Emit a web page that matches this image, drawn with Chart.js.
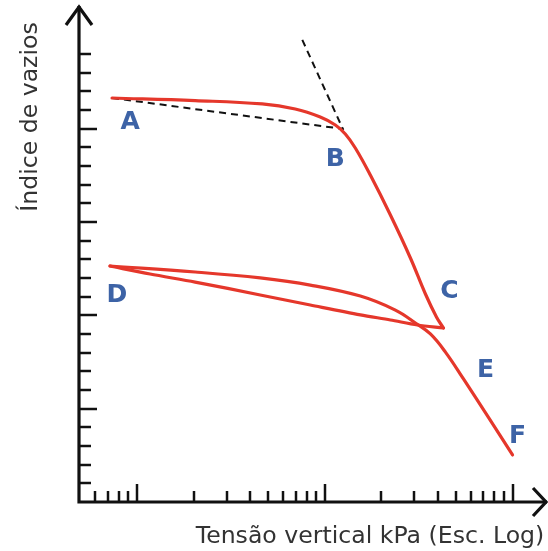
<!DOCTYPE html>
<html>
<head>
<meta charset="utf-8">
<script src="https://cdn.jsdelivr.net/npm/chart.js@4/dist/chart.umd.min.js"></script>
<style>
html,body{margin:0;padding:0;background:#fff;}
#wrap{width:548px;height:551px;}
</style>
</head>
<body>
<div id="wrap"><canvas id="c" width="548" height="551"></canvas></div>
<script>
// ---- data (stress in kPa, log scale; void ratio in arbitrary units) ----
const loadX = [7.36, 20.39, 46.42, 69.6, 94.6, 113.8, 128.6, 145.4, 174.8, 223.6, 285.8, 343.6, 393.3, 428.5];
const loadY = [21.64, 21.50, 21.32, 21.05, 20.62, 20.19, 19.71, 18.96, 17.51, 15.37, 13.07, 11.14, 9.91, 9.32];
const unloadX = [428.5, 311.5, 223.6, 154.7, 83.7, 45.3, 20.39, 11.73, 7.18];
const unloadY = [9.32, 9.48, 9.75, 10.02, 10.55, 11.09, 11.78, 12.21, 12.64];
const reloadX = [7.18, 20.39, 45.3, 83.7, 154.7, 237.7, 303.9, 365.2, 439.2, 547.9, 735.6, 1000];
const reloadY = [12.64, 12.32, 12.0, 11.62, 11.03, 10.28, 9.59, 9.0, 8.03, 6.59, 4.61, 2.52];
const tangentX = [7.36, 125.5];
const tangentY = [21.64, 19.98];
const slopeLineX = [75.9, 125.5];
const slopeLineY = [24.75, 19.93];
const letters = ['A', 'B', 'C', 'D', 'E', 'F'];
const letterX = [9.18, 113.8, 461.3, 7.82, 717.8, 1063];
const letterY = [20.46, 18.48, 11.41, 11.19, 7.18, 3.64];
const yTicks = [1,2,3,4,5,6,7,8,9,10,11,12,13,14,15,16,17,18,19,20,21,22,23,24];
const yMajorTicks = [5, 10, 15, 20];
const xTicks = [6,7,8,9,10,20,30,40,50,60,70,80,90,100,200,300,400,500,600,700,800,900,1000];
const xMajorTicks = [10, 100, 1000];
const xTitle = 'Tensão vertical kPa (Esc. Log)';
const yTitle = 'Índice de vazios';

const RED = '#e5372b';
const BLUE = '#3d63a6';
const toPts = (xs, ys) => xs.map((x, i) => ({x: x, y: ys[i]}));

const axesPlugin = {
  id: 'axesPlugin',
  beforeDatasetsDraw(chart) {
    const ctx = chart.ctx;
    const xs = chart.scales.x, ys = chart.scales.y;
    const x0 = xs.left, y0 = ys.bottom;
    ctx.save();
    ctx.strokeStyle = '#111';
    ctx.lineCap = 'butt';
    ctx.lineWidth = 2.5;
    yTicks.forEach(v => {
      const py = Math.round(ys.getPixelForValue(v));
      const len = yMajorTicks.includes(v) ? 18 : 12;
      ctx.beginPath(); ctx.moveTo(x0, py); ctx.lineTo(x0 + len, py); ctx.stroke();
    });
    xTicks.forEach(v => {
      const px = Math.round(xs.getPixelForValue(v));
      const len = xMajorTicks.includes(v) ? 18 : 11;
      ctx.beginPath(); ctx.moveTo(px, y0); ctx.lineTo(px, y0 - len); ctx.stroke();
    });
    ctx.lineWidth = 3.2;
    ctx.beginPath();
    ctx.moveTo(x0, ys.top + 1);
    ctx.lineTo(x0, y0);
    ctx.lineTo(xs.right - 1, y0);
    ctx.stroke();
    ctx.lineJoin = 'miter';
    ctx.beginPath();
    ctx.moveTo(x0 - 13, ys.top + 20);
    ctx.lineTo(x0, ys.top + 2);
    ctx.lineTo(x0 + 13, ys.top + 20);
    ctx.stroke();
    ctx.beginPath();
    ctx.moveTo(xs.right - 15, y0 - 14);
    ctx.lineTo(xs.right - 2, y0);
    ctx.lineTo(xs.right - 15, y0 + 14);
    ctx.stroke();
    ctx.restore();
  },
  afterDatasetsDraw(chart) {
    const ctx = chart.ctx;
    const xs = chart.scales.x, ys = chart.scales.y;
    ctx.save();
    ctx.fillStyle = BLUE;
    ctx.font = 'bold 25px "DejaVu Sans", Verdana, sans-serif';
    ctx.textAlign = 'center';
    ctx.textBaseline = 'alphabetic';
    letters.forEach((t, i) => {
      const px = xs.getPixelForValue(letterX[i]);
      const py = ys.getPixelForValue(letterY[i]);
      ctx.fillText(t, px, py + 9);
    });
    ctx.fillStyle = '#333';
    ctx.font = '23.6px "DejaVu Sans", Verdana, sans-serif';
    ctx.textAlign = 'center';
    ctx.fillText(xTitle, 370, 543);
    ctx.translate(37, 117);
    ctx.rotate(-Math.PI / 2);
    ctx.fillText(yTitle, 0, 0);
    ctx.restore();
  }
};

const redLine = (xs, ys, t) => ({
  data: toPts(xs, ys), showLine: true, borderColor: RED, borderWidth: 3.2, pointRadius: 0,
  tension: t, borderCapStyle: 'round', borderJoinStyle: 'round', order: 0
});
const dashLine = (xs, ys) => ({
  data: toPts(xs, ys), showLine: true, borderColor: '#111', borderWidth: 2, borderDash: [7, 5],
  pointRadius: 0, tension: 0, order: 1
});

new Chart(document.getElementById('c'), {
  type: 'scatter',
  data: {
    datasets: [
      redLine(loadX, loadY, 0.4),
      redLine(unloadX, unloadY, 0.3),
      redLine(reloadX, reloadY, 0.4),
      dashLine(tangentX, tangentY),
      dashLine(slopeLineX, slopeLineY)
    ]
  },
  options: {
    responsive: false,
    animation: false,
    devicePixelRatio: 1,
    layout: {padding: {left: 79, top: 5, right: 0, bottom: 49}},
    plugins: {legend: {display: false}, tooltip: {enabled: false}},
    scales: {
      x: {type: 'logarithmic', display: false, bounds: 'data', min: 4.907, max: 1545},
      y: {type: 'linear', display: false, bounds: 'data', min: 0, max: 26.62}
    }
  },
  plugins: [axesPlugin]
});
</script>
</body>
</html>
